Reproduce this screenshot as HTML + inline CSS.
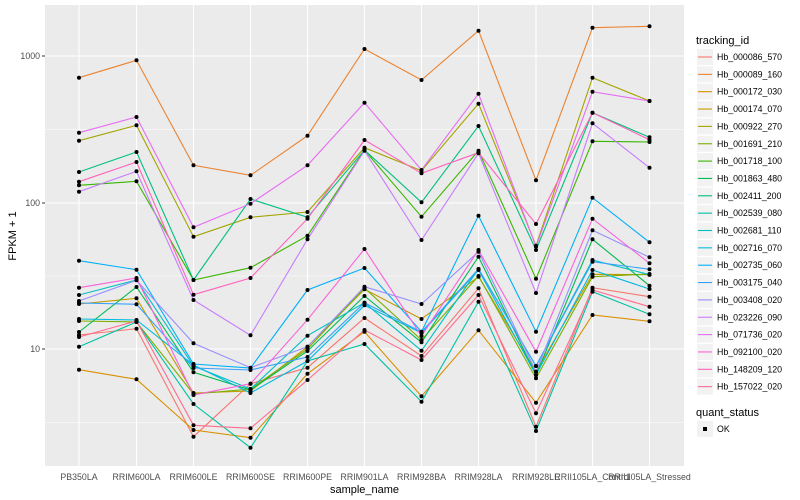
<!DOCTYPE html>
<html><head><meta charset="utf-8"><style>
body{margin:0;background:#fff;}
svg{display:block;font-family:"Liberation Sans",sans-serif;}
</style></head><body>
<svg width="800" height="500" xmlns="http://www.w3.org/2000/svg">
<rect x="45" y="5" width="639" height="461" fill="#EBEBEB"/>
<g stroke="#fff">
<line x1="45" x2="684" y1="129.5" y2="129.5" stroke-width="0.5"/>
<line x1="45" x2="684" y1="276" y2="276" stroke-width="0.5"/>
<line x1="45" x2="684" y1="422.5" y2="422.5" stroke-width="0.5"/>
<line x1="45" x2="684" y1="56" y2="56" stroke-width="1.1"/>
<line x1="45" x2="684" y1="203" y2="203" stroke-width="1.1"/>
<line x1="45" x2="684" y1="349" y2="349" stroke-width="1.1"/>
<g stroke-width="1.1">
<line y1="5" y2="466" x1="79" x2="79"/><line y1="5" y2="466" x1="136.5" x2="136.5"/><line y1="5" y2="466" x1="193.5" x2="193.5"/><line y1="5" y2="466" x1="250.5" x2="250.5"/><line y1="5" y2="466" x1="307.5" x2="307.5"/><line y1="5" y2="466" x1="364.5" x2="364.5"/><line y1="5" y2="466" x1="421.5" x2="421.5"/><line y1="5" y2="466" x1="478.5" x2="478.5"/><line y1="5" y2="466" x1="536" x2="536"/><line y1="5" y2="466" x1="592.5" x2="592.5"/><line y1="5" y2="466" x1="649.5" x2="649.5"/>
</g></g>
<g id="series" fill="none" stroke-width="1.1"></g>
<g id="pts" fill="#000"></g>
<g fill="#4D4D4D" font-size="8.8" text-anchor="end">
<text x="40" y="59">1000</text><text x="40" y="206">100</text><text x="40" y="352">10</text>
</g>
<g stroke="#333" stroke-width="1"><line x1="42" x2="45" y1="56" y2="56"/><line x1="42" x2="45" y1="203" y2="203"/><line x1="42" x2="45" y1="349" y2="349"/></g>
<g fill="#4D4D4D" font-size="8.8" text-anchor="middle">
<text x="79" y="480">PB350LA</text><text x="136.5" y="480">RRIM600LA</text><text x="193.5" y="480">RRIM600LE</text><text x="250.5" y="480">RRIM600SE</text><text x="307.5" y="480">RRIM600PE</text><text x="364.5" y="480">RRIM901LA</text><text x="421.5" y="480">RRIM928BA</text><text x="478.5" y="480">RRIM928LA</text><text x="536" y="480">RRIM928LE</text><text x="592.5" y="480">RRII105LA_Control</text><text x="649.5" y="480">RRII105LA_Stressed</text>
</g>
<text x="364.5" y="493" font-size="11" text-anchor="middle" fill="#000">sample_name</text>
<text transform="translate(16,236) rotate(-90)" font-size="11" text-anchor="middle" fill="#000">FPKM + 1</text>
<text x="696" y="44" font-size="11" fill="#000">tracking_id</text>
<g id="legend"></g>
<text x="696" y="416" font-size="11" fill="#000">quant_status</text>
<rect x="697" y="421" width="16" height="16" fill="#F2F2F2"/>
<rect x="703" y="427" width="4" height="4" fill="#000"/>
<text x="717" y="432" font-size="8.8" fill="#000">OK</text>
</svg>
<script>
var X=[79,136.5,193.5,250.5,307.5,364.5,421.5,478.5,536,592.5,649.5];
var S=[
["#F8766D",[335,328.7,436.7,383.7,367.7,318,356,288.3,426.7,287.7,296.7]],
["#EA8331",[77.7,60.3,165.3,175.3,135.7,49,80,30.7,180.3,27.7,26.3]],
["#D89000",[369.7,379.3,430,437.7,373.7,331.7,396.3,330.3,402.7,315,321.3]],
["#C09B00",[304,298.3,393,391,346.7,289.3,319,276.7,371.7,274.3,274.7]],
["#A3A500",[140.7,125.3,236.7,217.3,212,147.7,170.7,103.7,245.7,77.7,101]],
["#7CAE00",[321,322,394,389,349,288,340,276,378.3,276.7,274]],
["#39B600",[185.3,181.3,280,267.7,235.7,150,216.7,150.7,278.7,141.3,142]],
["#00BB4E",[332,287,372.3,390,351,296,342.3,256.7,375,239.3,285.7]],
["#00BF7D",[172,152,280,199,217.3,150,202.3,126,250,112.7,137.3]],
["#00C1A3",[346.7,322,404,447.7,361,344,401.7,301.7,431,291.7,314.3]],
["#00BFC4",[295,280,366,389,335.7,302.7,350.7,269,366,260,274.7]],
["#00BAE0",[319,320,365,393,361,305.3,333,270,375,270,289]],
["#00B0F6",[260.7,269.7,364,368,290,268,331.7,215.7,331.7,197.7,242.3]],
["#35A2FF",[303,304.3,368,370,357,302.7,332,269,366,261.7,269.3]],
["#9590FF",[301,280.3,343.3,367.7,346.7,286.7,304,251.7,371.7,230.3,257.3]],
["#C77CFF",[191.7,171.3,300,335.3,239.3,150.7,240,153.3,293,123.3,167.7]],
["#E76BF3",[132.7,117,227.3,203.7,165.3,102.7,170,93.7,246.7,91.7,101]],
["#FA62DB",[287.7,278,395,383.7,319.7,249,336,250,351.7,218.7,263.3]],
["#FF62BC",[181.7,162,294.7,278,218.7,140,173.3,152.7,224,112.7,139.7]],
["#FF6C91",[337,321,425.3,428.3,380,330,360,295,413.3,290,306.7]]];
var names=["Hb_000086_570","Hb_000089_160","Hb_000172_030","Hb_000174_070","Hb_000922_270","Hb_001691_210","Hb_001718_100","Hb_001863_480","Hb_002411_200","Hb_002539_080","Hb_002681_110","Hb_002716_070","Hb_002735_060","Hb_003175_040","Hb_003408_020","Hb_023226_090","Hb_071736_020","Hb_092100_020","Hb_148209_120","Hb_157022_020"];
var ns="http://www.w3.org/2000/svg",g=document.getElementById("series"),p=document.getElementById("pts"),lg=document.getElementById("legend");
S.forEach(function(s,i){
 var pl=document.createElementNS(ns,"polyline");
 pl.setAttribute("points",s[1].map(function(y,j){return X[j]+","+y}).join(" "));
 pl.setAttribute("stroke",s[0]);g.appendChild(pl);
 s[1].forEach(function(y,j){var c=document.createElementNS(ns,"circle");c.setAttribute("cx",X[j]);c.setAttribute("cy",y);c.setAttribute("r",2);p.appendChild(c);});
 var yy=57+i*17.35;
 var r=document.createElementNS(ns,"rect");r.setAttribute("x",697);r.setAttribute("y",yy-8);r.setAttribute("width",16);r.setAttribute("height",16);r.setAttribute("fill","#F2F2F2");lg.appendChild(r);
 var l=document.createElementNS(ns,"line");l.setAttribute("x1",698);l.setAttribute("x2",712);l.setAttribute("y1",yy);l.setAttribute("y2",yy);l.setAttribute("stroke",s[0]);l.setAttribute("stroke-width",1.1);lg.appendChild(l);
 var t=document.createElementNS(ns,"text");t.setAttribute("x",717);t.setAttribute("y",yy+3);t.setAttribute("font-size","8.8");t.textContent=names[i];lg.appendChild(t);
});
</script>
</body></html>
